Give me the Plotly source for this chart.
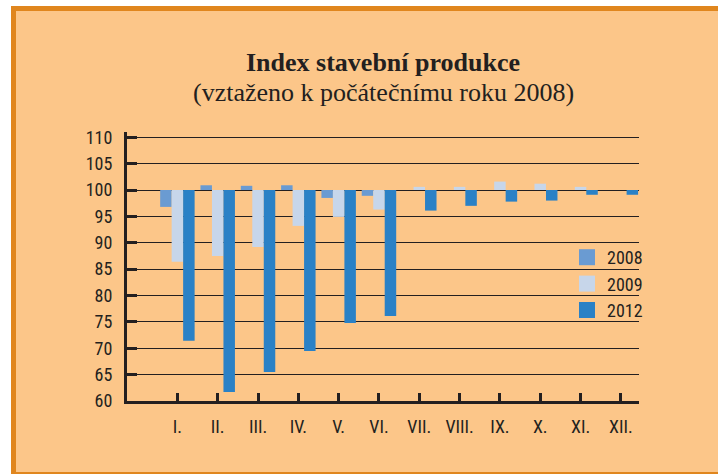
import plotly.graph_objects as go
import numpy as np

months = ["I.", "II.", "III.", "IV.", "V.", "VI.", "VII.", "VIII.", "IX.", "X.", "XI.", "XII."]
idx_2008 = [96.8, 100.9, 100.8, 100.9, 98.5, 98.9, 100, 100, 100, 100, 100, 100]
idx_2009 = [86.4, 87.5, 89.2, 93.2, 94.9, 96.3, 100.6, 100.6, 101.6, 101.2, 100.6, 100]
idx_2012 = [71.4, 61.7, 65.5, 69.5, 74.8, 76.1, 96.1, 97.0, 97.8, 98.0, 99.1, 99.1]
y_ticks = [60, 65, 70, 75, 80, 85, 90, 95, 100, 105, 110]
base_value = 100

W, H = 718, 474
L, R, T, B = 127, 639, 132, 401  # plot area in px

def px_x(p):
    return (p - L) / (R - L)

def px_y(p):
    return (B - p) / (B - T)

cond_font = "Roboto Condensed, Liberation Sans Narrow, sans-serif"
serif_font = "Liberation Serif, Times New Roman, serif"
ink = "#231f20"

series = [
    ("2008", idx_2008, "#6a9bd2"),
    ("2009", idx_2009, "#c7d6ea"),
    ("2012", idx_2012, "#2a81c6"),
]

fig = go.Figure()
for name, vals, col in series:
    v = np.array(vals, dtype=float)
    fig.add_trace(go.Bar(
        x=months, y=v - base_value, base=base_value, name=name,
        marker=dict(color=col, line=dict(width=0)), showlegend=False,
    ))
# legend entries with larger square swatches
for name, vals, col in series:
    fig.add_trace(go.Scatter(
        x=[None], y=[None], mode="markers", name=name,
        marker=dict(symbol="square", size=16, color=col),
        showlegend=True,
    ))

fig.update_layout(
    width=W, height=H,
    margin=dict(l=L, r=W - R, t=T, b=H - B, pad=0),
    paper_bgcolor="white",
    plot_bgcolor="rgba(0,0,0,0)",
    barmode="group",
    bargap=0.145,
    bargroupgap=0,
    showlegend=True,
    legend=dict(
        x=px_x(648), xanchor="right", y=px_y(239), yanchor="top",
        bgcolor="rgba(0,0,0,0)", borderwidth=0,
        font=dict(family=cond_font, size=18, color=ink),
        itemwidth=30, tracegroupgap=0,
    ),
    xaxis=dict(
        type="category", range=[-1.25, 11.45],
        showline=True, linecolor=ink, linewidth=3,
        ticks="inside", ticklen=8, tickwidth=2.5, tickcolor=ink,
        tickfont=dict(family=cond_font, size=18, color=ink),
        ticklabelstandoff=7,
        showgrid=False, zeroline=False, fixedrange=True,
    ),
    yaxis=dict(
        range=[60, 111], tickvals=y_ticks,
        showline=True, linecolor=ink, linewidth=3,
        ticks="inside", ticklen=10, tickwidth=3, tickcolor=ink,
        tickfont=dict(family=cond_font, size=18, color=ink),
        ticklabelstandoff=8,
        showgrid=True, gridcolor=ink, gridwidth=1.3,
        zeroline=False, fixedrange=True,
    ),
    shapes=[
        dict(type="rect", xref="paper", yref="paper", layer="below",
             x0=px_x(13.5), x1=px_x(730), y0=px_y(8.5), y1=px_y(474.5),
             fillcolor="#fcc689", line=dict(color="#e0861e", width=5)),
    ],
    annotations=[
        dict(text="<b>Index stavební produkce</b>", xref="paper", yref="paper",
             x=px_x(383), y=px_y(62), xanchor="center", yanchor="middle",
             showarrow=False, font=dict(family=serif_font, size=26, color=ink)),
        dict(text="(vztaženo k počátečnímu roku 2008)", xref="paper", yref="paper",
             x=px_x(383), y=px_y(92), xanchor="center", yanchor="middle",
             showarrow=False, font=dict(family=serif_font, size=26, color=ink)),
    ],
)

fig.write_html(
    "out.html",
    config={"displayModeBar": False},
    post_script="document.body.style.margin='0';document.body.style.overflow='hidden';",
)
